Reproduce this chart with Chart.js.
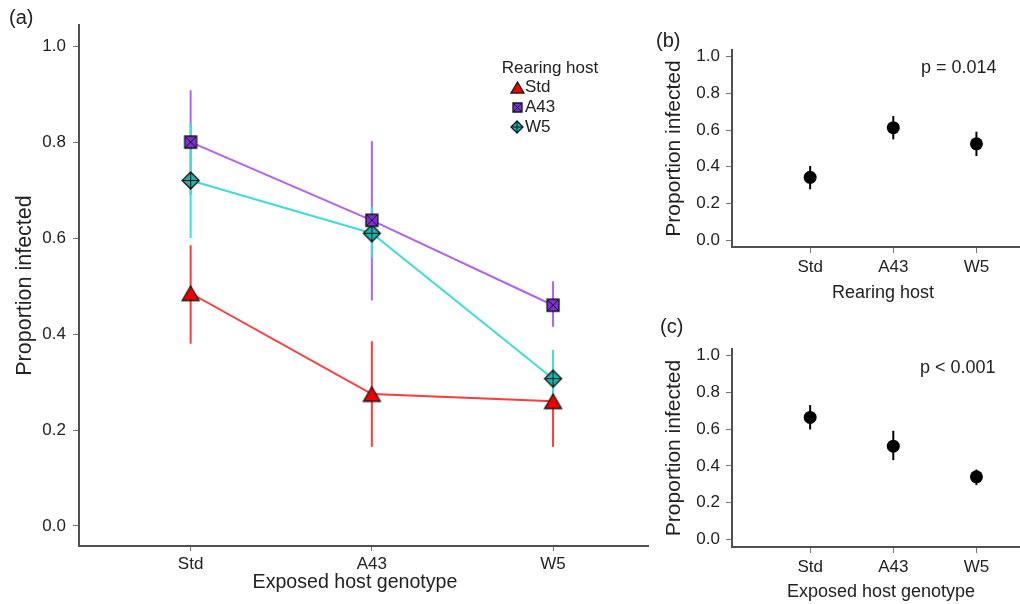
<!DOCTYPE html>
<html>
<head>
<meta charset="utf-8">
<script src="https://cdn.jsdelivr.net/npm/chart.js@4.4.1/dist/chart.umd.min.js"></script>
<style>
  html, body { margin: 0; padding: 0; background: #fff; }
  #wrap { position: relative; width: 1020px; height: 604px; overflow: hidden;
          font-family: 'Liberation Sans', Arial, sans-serif; color: #222; }
  #wrap canvas { position: absolute; }
  .tag { position: absolute; font-size: 20px; line-height: 22px; white-space: nowrap; }
  .pv { position: absolute; font-size: 18px; line-height: 20px; white-space: nowrap; }
</style>
</head>
<body>
<div id="wrap">
  <canvas id="chartA" width="655" height="604" style="left:0;top:0;width:655px;height:604px"></canvas>
  <canvas id="chartB" width="372" height="290" style="left:655px;top:20px;width:372px;height:290px"></canvas>
  <canvas id="chartC" width="372" height="279" style="left:655px;top:325px;width:372px;height:279px"></canvas>
  <div class="tag" style="left:9px;top:6px">(a)</div>
  <div class="tag" style="left:656px;top:29px">(b)</div>
  <div class="tag" style="left:660px;top:315px">(c)</div>
  <div class="pv" style="left:921px;top:57px">p = 0.014</div>
  <div class="pv" style="left:920px;top:357px">p &lt; 0.001</div>
</div>
<script>
// Exposed host genotypes (x axis of a and c) and rearing hosts (series of a, x axis of b)
const genotypes = ['Std', 'A43', 'W5'];
const rearingHosts = ['Std', 'A43', 'W5'];
const yTicks = [0, 0.2, 0.4, 0.6, 0.8, 1.0];

// (a) proportion infected by exposed genotype, one series per rearing host
const meanStd  = [0.485, 0.275, 0.260];
const lowStd   = [0.380, 0.165, 0.165];
const highStd  = [0.585, 0.385, 0.330];

const meanA43  = [0.800, 0.637, 0.460];
const lowA43   = [0.690, 0.470, 0.415];
const highA43  = [0.908, 0.802, 0.510];

const meanW5   = [0.720, 0.610, 0.307];
const lowW5    = [0.600, 0.558, 0.260];
const highW5   = [0.840, 0.665, 0.367];

// (b) pooled by rearing host
const meanByRearing = [0.342, 0.613, 0.525];
const lowByRearing  = [0.277, 0.549, 0.458];
const highByRearing = [0.404, 0.676, 0.591];

// (c) pooled by exposed host genotype
const meanByExposed = [0.664, 0.507, 0.340];
const lowByExposed  = [0.598, 0.431, 0.295];
const highByExposed = [0.731, 0.591, 0.380];

const FONT = "'Liberation Sans', Arial, sans-serif";
Chart.defaults.font.family = FONT;
Chart.defaults.color = '#222';

// Point symbols drawn once into small canvases
function marker(shape, size, fill) {
  const pad = 2, d = Math.ceil(size + pad * 2);
  const c = document.createElement('canvas');
  c.width = d; c.height = d;
  const g = c.getContext('2d');
  const m = d / 2, h = size / 2;
  g.lineWidth = 1.3; g.strokeStyle = '#151515'; g.fillStyle = fill;
  g.beginPath();
  if (shape === 'triangle') {
    const th = size * 0.85;
    g.moveTo(m, m - th / 2); g.lineTo(m + h, m + th / 2); g.lineTo(m - h, m + th / 2); g.closePath();
    g.fill(); g.stroke();
  } else if (shape === 'squareX') {
    g.rect(m - h, m - h, size, size); g.fill(); g.stroke();
    g.beginPath(); g.lineWidth = 1;
    g.moveTo(m - h, m - h); g.lineTo(m + h, m + h);
    g.moveTo(m + h, m - h); g.lineTo(m - h, m + h); g.stroke();
  } else if (shape === 'diamondPlus') {
    g.moveTo(m, m - h); g.lineTo(m + h, m); g.lineTo(m, m + h); g.lineTo(m - h, m); g.closePath();
    g.fill(); g.stroke();
    g.beginPath(); g.lineWidth = 1;
    g.moveTo(m, m - h); g.lineTo(m, m + h);
    g.moveTo(m - h, m); g.lineTo(m + h, m); g.stroke();
  }
  return c;
}

const seriesStyle = [
  { line: '#ff3a3a', fill: '#ee0000', shape: 'triangle',    size: 17, legendSize: 13 },
  { line: '#b062f2', fill: '#7d2fd9', shape: 'squareX',     size: 12, legendSize: 9 },
  { line: '#40dcd8', fill: '#1bb5ae', shape: 'diamondPlus', size: 17, legendSize: 12 }
];
const icons = seriesStyle.map(s => marker(s.shape, s.size, s.fill));
const legendIcons = seriesStyle.map(s => marker(s.shape, s.legendSize, s.fill));

const toPoints = arr => arr.map((v, i) => ({ x: i, y: v }));

// Vertical interval bars behind the points
const errorBars = {
  id: 'errorBars',
  beforeDatasetsDraw(chart) {
    const { ctx, scales: { x, y } } = chart;
    ctx.save();
    chart.data.datasets.forEach(ds => {
      ctx.strokeStyle = ds.barColor;
      ctx.lineWidth = 2;
      ds.lo.forEach((lo, i) => {
        const px = x.getPixelForValue(ds.data[i].x);
        ctx.beginPath();
        ctx.moveTo(px, y.getPixelForValue(lo));
        ctx.lineTo(px, y.getPixelForValue(ds.hi[i]));
        ctx.stroke();
      });
    });
    ctx.restore();
  }
};

// x-axis caption, placed under the plot area
const xCaption = {
  id: 'xCaption',
  afterDraw(chart, args, o) {
    const ctx = chart.ctx, a = chart.chartArea;
    ctx.save();
    ctx.font = o.size + 'px ' + FONT;
    ctx.fillStyle = '#222';
    ctx.textAlign = 'center';
    ctx.textBaseline = 'middle';
    ctx.fillText(o.text, (a.left + a.right) / 2 + o.dx, o.y);
    ctx.restore();
  }
};

// Legend box for the rearing-host series
const hostLegend = {
  id: 'hostLegend',
  afterDatasetsDraw(chart, args, o) {
    if (!o || !o.show) return;
    const ctx = chart.ctx;
    ctx.save();
    ctx.font = '17px ' + FONT;
    ctx.fillStyle = '#222';
    ctx.textBaseline = 'middle';
    ctx.textAlign = 'center';
    ctx.fillText(o.title, o.titleX, o.titleY);
    ctx.textAlign = 'left';
    chart.data.datasets.forEach((ds, i) => {
      const img = legendIcons[i];
      const cy = o.y + i * o.gap;
      ctx.drawImage(img, Math.round(o.x - img.width / 2), Math.round(cy - img.height / 2));
      ctx.fillText(ds.label, o.x + 8, cy);
    });
    ctx.restore();
  }
};

function fixedTicks(values) {
  return scale => { scale.ticks = values.map(v => ({ value: v })); };
}

function axes(o) {
  return {
    x: {
      type: 'linear', min: o.xMin, max: o.xMax,
      afterBuildTicks: fixedTicks([0, 1, 2]),
      afterFit: s => { s.height = o.xHeight; },
      grid: { drawOnChartArea: false, drawTicks: true, tickLength: o.xTickLen, color: '#777', lineWidth: 1 },
      border: { display: true, color: '#505050', width: 2 },
      ticks: { callback: v => o.xLabels[v], padding: o.xTickPad, color: '#222', font: { size: o.tickSize }, maxRotation: 0 },
      title: { display: false }
    },
    y: {
      type: 'linear', min: o.yMin, max: o.yMax,
      afterBuildTicks: fixedTicks(yTicks),
      afterFit: s => { s.width = o.yWidth; },
      grid: { drawOnChartArea: false, drawTicks: true, tickLength: 6, color: '#777', lineWidth: 1 },
      border: { display: true, color: '#505050', width: 2 },
      ticks: { callback: v => v.toFixed(1), padding: o.yTickPad, color: '#222', font: { size: o.tickSize } },
      title: { display: true, text: 'Proportion infected', color: '#222', font: { size: o.yTitleSize },
               padding: { top: o.yTitlePad, bottom: 0 } }
    }
  };
}

const common = {
  responsive: false,
  animation: false,
  plugins: { legend: { display: false }, tooltip: { enabled: false } }
};

// (a)
const seriesMeans = [meanStd, meanA43, meanW5];
const seriesLows  = [lowStd, lowA43, lowW5];
const seriesHighs = [highStd, highA43, highW5];

new Chart(document.getElementById('chartA'), {
  type: 'line',
  data: {
    datasets: rearingHosts.map((name, i) => ({
      label: name,
      data: toPoints(seriesMeans[i]),
      lo: seriesLows[i], hi: seriesHighs[i],
      barColor: seriesStyle[i].line,
      borderColor: seriesStyle[i].line,
      borderWidth: 2,
      pointStyle: icons[i],
      tension: 0,
      clip: false
    }))
  },
  options: {
    ...common,
    layout: { padding: { top: 25, right: 7, left: 0, bottom: 0 } },
    scales: axes({
      xMin: -0.616, xMax: 2.524, yMin: -0.0417, yMax: 1.044,
      xLabels: genotypes,
      xHeight: 58, yWidth: 79, xTickLen: 5, xTickPad: 3, yTickPad: 7,
      tickSize: 17, yTitleSize: 21.5, yTitlePad: 12
    }),
    plugins: {
      ...common.plugins,
      hostLegend: { show: true, title: 'Rearing host', titleX: 550, titleY: 68, x: 517, y: 87, gap: 20 },
      xCaption: { text: 'Exposed host genotype', size: 19.6, dx: -8.5, y: 583 }
    }
  },
  plugins: [errorBars, hostLegend, xCaption]
});

// (b) and (c): single black series
function pooledChart(id, mean, lo, hi, labels, xTitle, o) {
  new Chart(document.getElementById(id), {
    type: 'scatter',
    data: {
      datasets: [{
        label: xTitle,
        data: toPoints(mean), lo: lo, hi: hi,
        barColor: '#000',
        pointStyle: 'circle', pointRadius: 6.5,
        backgroundColor: '#000', borderColor: '#000', borderWidth: 0,
        clip: false
      }]
    },
    options: {
      ...common,
      layout: { padding: { top: o.top, right: 0, left: 0, bottom: 0 } },
      scales: axes({
        xMin: -0.94, xMax: 2.53, yMin: o.yMin, yMax: 1.0365,
        xLabels: labels,
        xHeight: o.xHeight, yWidth: 77, xTickLen: 6, xTickPad: 4, yTickPad: 6,
        tickSize: 17, yTitleSize: 21, yTitlePad: 7
      }),
      plugins: {
        ...common.plugins,
        xCaption: { text: xTitle, size: 18, dx: o.dx, y: o.captionY }
      }
    },
    plugins: [errorBars, xCaption]
  });
}

pooledChart('chartB', meanByRearing, lowByRearing, highByRearing, rearingHosts, 'Rearing host',
  { top: 30, xHeight: 63, yMin: -0.038, dx: 6.7, captionY: 273 });
pooledChart('chartC', meanByExposed, lowByExposed, highByExposed, genotypes, 'Exposed host genotype',
  { top: 24, xHeight: 57, yMin: -0.042, dx: 4.7, captionY: 267 });
</script>
</body>
</html>
